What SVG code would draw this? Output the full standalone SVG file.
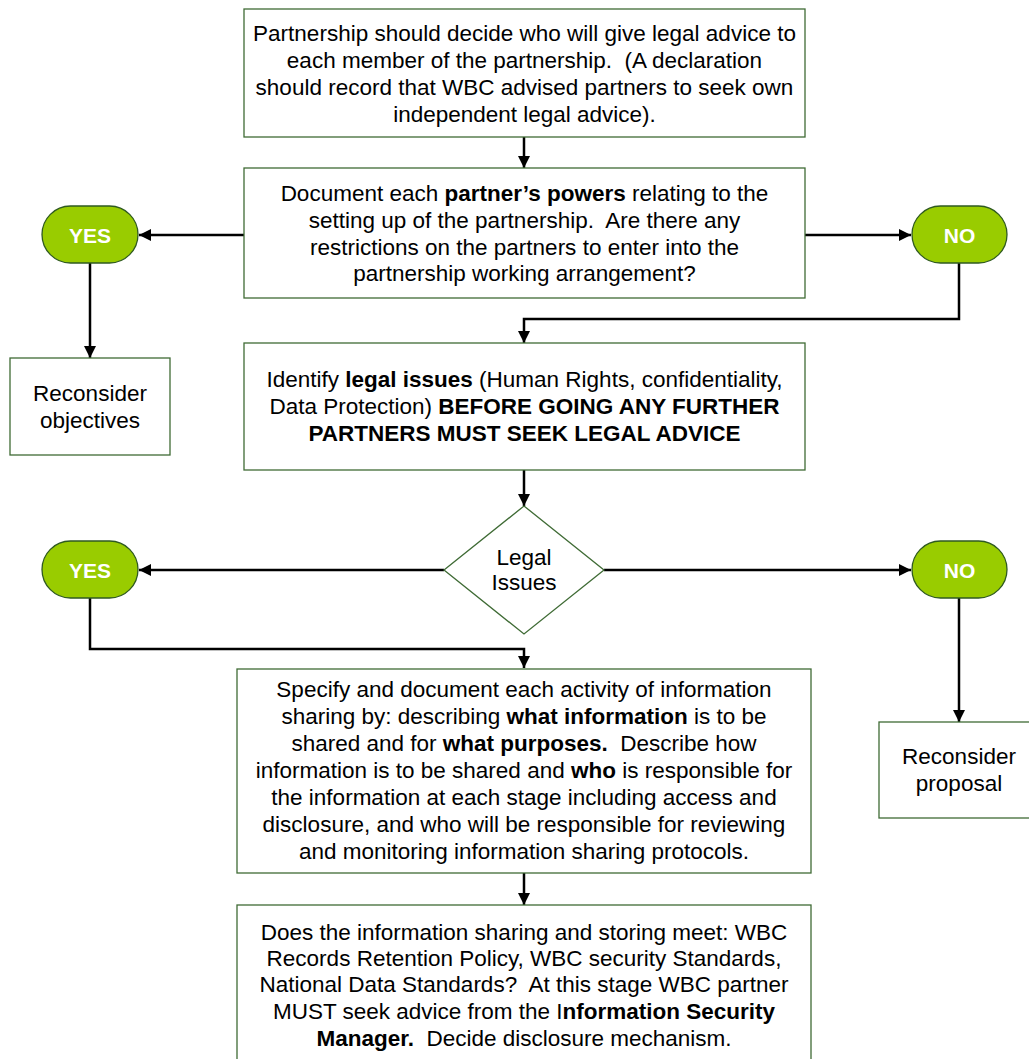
<svg xmlns="http://www.w3.org/2000/svg" width="1029" height="1059" viewBox="0 0 1029 1059">
<defs>
<marker id="arr" viewBox="0 0 12 12" refX="12" refY="6" markerWidth="12" markerHeight="12" markerUnits="userSpaceOnUse" orient="auto">
<path d="M0,0 L12,6 L0,12 z" fill="#000"/>
</marker>
<style>
.box{fill:#fff;stroke:#3f6b35;stroke-width:1.3}
.pill{fill:#99cc00;stroke:#2f5a20;stroke-width:1.3}
.t{font-family:"Liberation Sans",Arial,sans-serif;font-size:22.5px;fill:#000;text-anchor:middle}
.pt{font-family:"Liberation Sans",Arial,sans-serif;font-size:21px;font-weight:bold;fill:#fff;text-anchor:middle}
.b{font-weight:bold}
.c{fill:none;stroke:#000;stroke-width:2.5}
</style>
</defs>
<rect width="1029" height="1059" fill="#fff"/>
<g id="connectors">
<path class="c" d="M524,137 V168" marker-end="url(#arr)"/>
<path class="c" d="M244,235 H139" marker-end="url(#arr)"/>
<path class="c" d="M805,235 H911" marker-end="url(#arr)"/>
<path class="c" d="M90,263 V358" marker-end="url(#arr)"/>
<path class="c" d="M959,263 V319 H524 V343" marker-end="url(#arr)"/>
<path class="c" d="M524,470 V506" marker-end="url(#arr)"/>
<path class="c" d="M444,570 H139" marker-end="url(#arr)"/>
<path class="c" d="M604,570 H911" marker-end="url(#arr)"/>
<path class="c" d="M90,598 V649 H524 V668" marker-end="url(#arr)"/>
<path class="c" d="M959,598 V722" marker-end="url(#arr)"/>
<path class="c" d="M524,873 V905" marker-end="url(#arr)"/>
</g>
<g id="box1">
<rect class="box" x="244" y="9" width="561" height="128"/>
<text class="t" xml:space="preserve"><tspan x="524.5" y="41">Partnership should decide who will give legal advice to</tspan><tspan x="524.5" y="68">each member of the partnership.  (A declaration</tspan><tspan x="524.5" y="95">should record that WBC advised partners to seek own</tspan><tspan x="524.5" y="122">independent legal advice).</tspan></text>
</g>
<g id="box2">
<rect class="box" x="244" y="168" width="561" height="130"/>
<text class="t" xml:space="preserve"><tspan x="524.5" y="201">Document each <tspan class="b">partner’s powers</tspan> relating to the</tspan><tspan x="524.5" y="228">setting up of the partnership.  Are there any</tspan><tspan x="524.5" y="255">restrictions on the partners to enter into the</tspan><tspan x="524.5" y="281">partnership working arrangement?</tspan></text>
</g>
<g id="yes1">
<rect class="pill" x="42" y="206" width="96" height="57" rx="28.5"/>
<text class="pt" x="90" y="242.5">YES</text>
</g>
<g id="no1">
<rect class="pill" x="912" y="206" width="95" height="57" rx="28.5"/>
<text class="pt" x="959.5" y="242.5">NO</text>
</g>
<g id="reconsider-objectives">
<rect class="box" x="10" y="358" width="160" height="97"/>
<text class="t"><tspan x="90" y="401">Reconsider</tspan><tspan x="90" y="428">objectives</tspan></text>
</g>
<g id="box3">
<rect class="box" x="244" y="343" width="561" height="127"/>
<text class="t"><tspan x="524.5" y="387">Identify <tspan class="b">legal issues</tspan> (Human Rights, confidentiality,</tspan><tspan x="524.5" y="414">Data Protection) <tspan class="b">BEFORE GOING ANY FURTHER</tspan></tspan><tspan x="524.5" y="441" class="b">PARTNERS MUST SEEK LEGAL ADVICE</tspan></text>
</g>
<g id="legal-issues">
<polygon class="box" points="524,506 604,570 524,634 444,570"/>
<text class="t"><tspan x="524" y="565">Legal</tspan><tspan x="524" y="590">Issues</tspan></text>
</g>
<g id="yes2">
<rect class="pill" x="42" y="541" width="96" height="57" rx="28.5"/>
<text class="pt" x="90" y="577.5">YES</text>
</g>
<g id="no2">
<rect class="pill" x="912" y="541" width="95" height="57" rx="28.5"/>
<text class="pt" x="959.5" y="577.5">NO</text>
</g>
<g id="reconsider-proposal">
<rect class="box" x="879" y="722" width="160" height="96"/>
<text class="t"><tspan x="959" y="764">Reconsider</tspan><tspan x="959" y="791">proposal</tspan></text>
</g>
<g id="box4">
<rect class="box" x="237" y="669" width="574" height="204"/>
<text class="t" xml:space="preserve"><tspan x="524" y="697">Specify and document each activity of information</tspan><tspan x="524" y="724">sharing by: describing <tspan class="b">what information</tspan> is to be</tspan><tspan x="524" y="751">shared and for <tspan class="b">what purposes.</tspan>  Describe how</tspan><tspan x="524" y="778">information is to be shared and <tspan class="b">who</tspan> is responsible for</tspan><tspan x="524" y="805">the information at each stage including access and</tspan><tspan x="524" y="832">disclosure, and who will be responsible for reviewing</tspan><tspan x="524" y="859">and monitoring information sharing protocols.</tspan></text>
</g>
<g id="box5">
<rect class="box" x="237" y="905" width="574" height="160"/>
<text class="t" xml:space="preserve"><tspan x="524" y="940">Does the information sharing and storing meet: WBC</tspan><tspan x="524" y="966">Records Retention Policy, WBC security Standards,</tspan><tspan x="524" y="992">National Data Standards?  At this stage WBC partner</tspan><tspan x="524" y="1019">MUST seek advice from the I<tspan class="b">nformation Security</tspan></tspan><tspan x="524" y="1046"><tspan class="b">Manager.</tspan>  Decide disclosure mechanism.</tspan></text>
</g>
</svg>
